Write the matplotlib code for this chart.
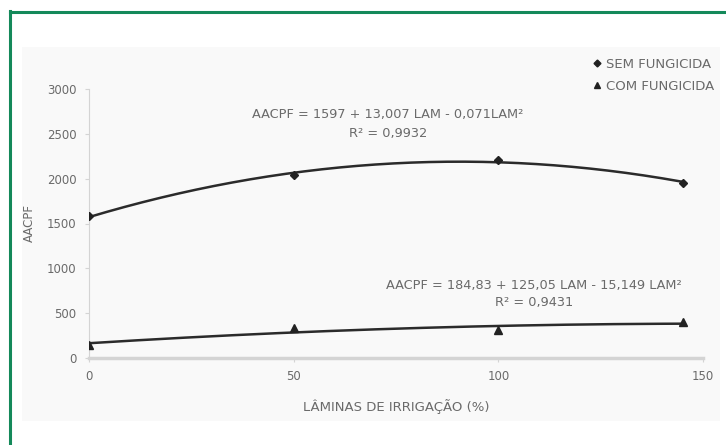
import numpy as np
import matplotlib.pyplot as plt
from matplotlib.lines import Line2D
from matplotlib.patches import Rectangle

# Data
laminas = [0, 50, 100, 145]
sem_fungicida = [1580, 2040, 2210, 1955]
com_fungicida = [150, 330, 310, 400]

eq_sem = 'AACPF = 1597 + 13,007 LAM - 0,071LAM²'
r2_sem = 'R² = 0,9932'
eq_com = 'AACPF = 184,83 + 125,05 LAM - 15,149 LAM²'
r2_com = 'R² = 0,9431'

plt.rcParams['font.family'] = ['DejaVu Sans']
txt_col = '#6a6a6a'
axis_col = '#d4d4d4'

fig = plt.figure(figsize=(7.26, 4.45), dpi=100)

# green frame (top + left) and light panel
fig.add_artist(Line2D([9.5/726, 9.5/726], [0, 1 - 11/445], color='#14895a', lw=2.2))
fig.add_artist(Line2D([9.5/726, 1], [1 - 12/445, 1 - 12/445], color='#14895a', lw=2.2))
fig.add_artist(Rectangle((22/726, 1 - 421/445), (720 - 22)/726, (421 - 47)/445,
                         facecolor='#f9f9f9', edgecolor='none', zorder=0))

ax = fig.add_axes([89/726, 1 - 358/445, (703 - 89)/726, (358 - 89)/445])
ax.patch.set_alpha(0)

# trend lines (quadratic fit of the points)
xs = np.linspace(0, 145, 200)
for ys in (sem_fungicida, com_fungicida):
    coef = np.polyfit(laminas, ys, 2)
    ax.plot(xs, np.polyval(coef, xs), color='#2b2b2b', lw=1.8, zorder=2)

ax.plot(laminas, sem_fungicida, 'D', color='#222222', ms=4, zorder=3)
ax.plot(laminas, com_fungicida, '^', color='#222222', ms=5.5, zorder=3)

ax.set_xlim(0, 150)
ax.set_ylim(0, 3000)
ax.set_xticks([0, 50, 100, 150])
ax.set_yticks(range(0, 3001, 500))
for s in ['top', 'right']:
    ax.spines[s].set_visible(False)
ax.spines['left'].set_color(axis_col)
ax.spines['bottom'].set_color(axis_col)
ax.spines['bottom'].set_linewidth(2.5)
ax.tick_params(colors=axis_col, labelcolor=txt_col, labelsize=8.5, length=3, pad=6)

ax.set_xlabel('LÂMINAS DE IRRIGAÇÃO (%)', fontsize=9.5, color=txt_col, labelpad=11)
ax.set_ylabel('AACPF', fontsize=8.5, color=txt_col, labelpad=8)

ax.text(73, 2720, eq_sem, fontsize=9.3, color=txt_col, ha='center', va='center')
ax.text(73, 2500, r2_sem, fontsize=9.3, color=txt_col, ha='center', va='center')
ax.text(108.7, 806, eq_com, fontsize=9.3, color=txt_col, ha='center', va='center')
ax.text(108.7, 616, r2_com, fontsize=9.3, color=txt_col, ha='center', va='center')

handles = [Line2D([], [], ls='none', marker='D', color='#222222', ms=3.5),
           Line2D([], [], ls='none', marker='^', color='#222222', ms=5)]
fig.legend(handles, ['SEM FUNGICIDA', 'COM FUNGICIDA'], loc='upper left',
           bbox_to_anchor=(586/726, 1 - 51/445), frameon=False, fontsize=9.5,
           labelcolor=txt_col, handlelength=0.6, handletextpad=0.4,
           borderpad=0, labelspacing=0.7)

fig.savefig('out.png', dpi=100)
